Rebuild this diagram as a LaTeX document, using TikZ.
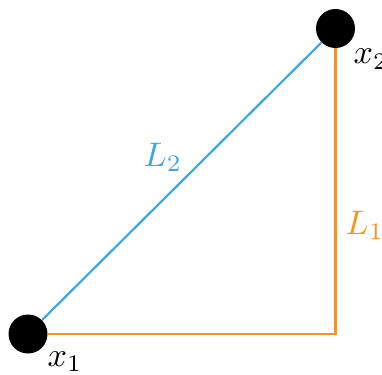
\documentclass[tikz,border=0pt]{standalone}
\usepackage{amsmath}
\usepackage{tikz}
\definecolor{lineblue}{RGB}{58,168,232}
\definecolor{lineorange}{RGB}{248,148,30}

\begin{document}
\begin{tikzpicture}[x=1pt, y=-1pt,
        dot/.style={circle, fill=black, minimum size=39pt, inner sep=0pt},
        lbl/.style={anchor=base west, inner sep=0pt, scale=3.4, transform shape}]
    \useasboundingbox (0,0) rectangle (382,374);
    % points
    \node[dot] (p1) at (28,334) {};
    \node[dot] (p2) at (335.5,28.5) {};
    \coordinate (c) at (335.5,334);
    % sides
    \draw[lineorange, line width=2.2pt] (p1) -- (c) -- (p2);
    \draw[lineblue, line width=2.2pt] (p1) -- (p2);
    % labels
    \node[lbl] (lx1) at (47,366) {$x_1$};
    \node[lbl] (lx2) at (353,64) {$x_2$};
    \node[lbl, lineblue] (lL2) at (143,166) {$L_2$};
    \node[lbl, lineorange] (lL1) at (345,234) {$L_1$};
\end{tikzpicture}
\end{document}
